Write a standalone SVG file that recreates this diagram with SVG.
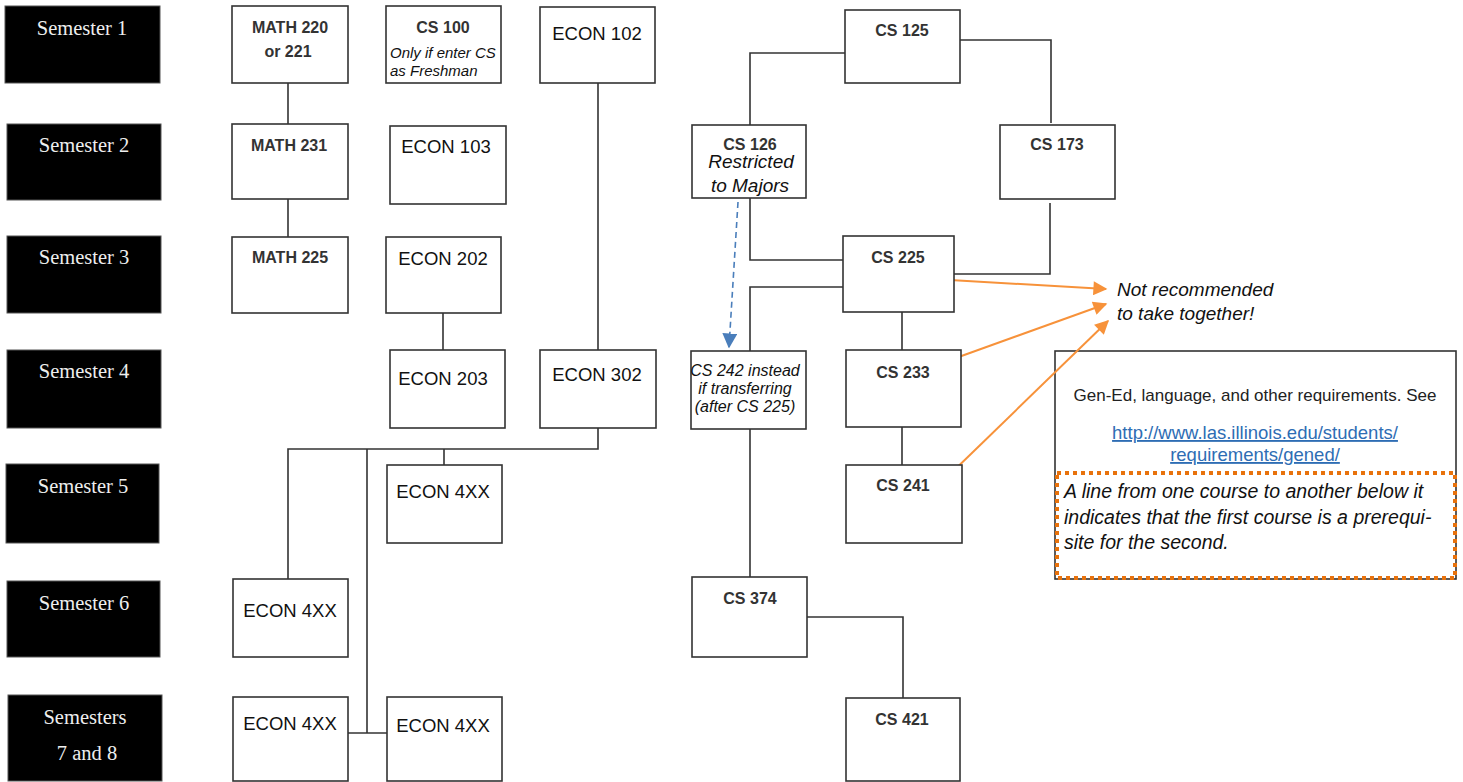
<svg xmlns="http://www.w3.org/2000/svg" width="1463" height="782" viewBox="0 0 1463 782">
<defs>
<style>
.sem rect{fill:#000;stroke:#555;stroke-width:1}
.sem text{fill:#eee;font-family:"Liberation Serif",serif;font-size:20.5px;text-anchor:middle}
.node rect{fill:#fff;stroke:#333;stroke-width:1.6}
.b{font-family:"Liberation Sans",Arial,sans-serif;font-weight:bold;font-size:16px;fill:#333;text-anchor:middle}
.r{font-family:"Liberation Sans",Arial,sans-serif;font-size:18.5px;fill:#111;text-anchor:middle}
.i{font-family:"Liberation Sans",Arial,sans-serif;font-style:italic;fill:#111;text-anchor:middle}
.conn path{fill:none;stroke:#333;stroke-width:1.6}
.conn path.orange{fill:none;stroke:#f7923a;stroke-width:2}
.conn path.blue{fill:none;stroke:#4a7ebb;stroke-width:1.6;stroke-dasharray:6,4}
</style>
<marker id="oa" viewBox="0 0 10 10" refX="9" refY="5" markerWidth="16" markerHeight="14" markerUnits="userSpaceOnUse" orient="auto"><path d="M0,0 L10,5 L0,10 z" fill="#f7923a"/></marker>
<marker id="ba" viewBox="0 0 10 10" refX="9" refY="5" markerWidth="15" markerHeight="15" markerUnits="userSpaceOnUse" orient="auto"><path d="M0,0 L10,5 L0,10 z" fill="#4a7ebb"/></marker>
</defs>
<rect width="1463" height="782" fill="#fff"/>

<g id="semesters">
<g id="sem1" class="sem"><rect x="5" y="6" width="155" height="77"/><text x="82" y="35">Semester 1</text></g>
<g id="sem2" class="sem"><rect x="7" y="124" width="154" height="76"/><text x="84" y="152">Semester 2</text></g>
<g id="sem3" class="sem"><rect x="7" y="236" width="154" height="77"/><text x="84" y="264">Semester 3</text></g>
<g id="sem4" class="sem"><rect x="7" y="350" width="154" height="78"/><text x="84" y="378">Semester 4</text></g>
<g id="sem5" class="sem"><rect x="6" y="464" width="153" height="79"/><text x="83" y="493">Semester 5</text></g>
<g id="sem6" class="sem"><rect x="7" y="581" width="153" height="76"/><text x="84" y="610">Semester 6</text></g>
<g id="sem78" class="sem"><rect x="8" y="695" width="154" height="86"/><text x="85" y="724">Semesters</text><text x="87" y="760">7 and 8</text></g>
</g>

<g id="legend">
<rect x="1055" y="351" width="401" height="228" fill="#fff" stroke="#333" stroke-width="1.6"/>
<rect x="1057" y="473" width="398" height="105" fill="none" stroke="#e8720c" stroke-width="4" stroke-dasharray="4,4"/>
<text x="1255" y="401" font-family="Liberation Sans,Arial,sans-serif" font-size="17" fill="#222" text-anchor="middle">Gen-Ed, language, and other requirements. See</text>
<text x="1255" y="439" font-family="Liberation Sans,Arial,sans-serif" font-size="18.5" fill="#2e6db4" text-anchor="middle" text-decoration="underline">http://www.las.illinois.edu/students/</text>
<text x="1255" y="461" font-family="Liberation Sans,Arial,sans-serif" font-size="18.5" fill="#2e6db4" text-anchor="middle" text-decoration="underline">requirements/gened/</text>
<text x="1064" y="498" font-family="Liberation Sans,Arial,sans-serif" font-style="italic" font-size="19.5" fill="#111">A line from one course to another below it</text>
<text x="1064" y="524" font-family="Liberation Sans,Arial,sans-serif" font-style="italic" font-size="19.5" fill="#111">indicates that the first course is a prerequi-</text>
<text x="1064" y="549" font-family="Liberation Sans,Arial,sans-serif" font-style="italic" font-size="19.5" fill="#111">site for the second.</text>
</g>

<g id="connectors" class="conn">
<path d="M288,83 V124"/>
<path d="M288,199 V237"/>
<path d="M598,83 V350"/>
<path d="M443,313 V350"/>
<path d="M598,428 V449 H288 V579"/>
<path d="M367,449 V733"/>
<path d="M348,733 H387"/>
<path d="M444,449 V465"/>
<path d="M845,53 H750 V125"/>
<path d="M957,40 H1051 V123"/>
<path d="M750,198 V260 H843"/>
<path d="M1050,203 V274 H954"/>
<path d="M843,287 H750 V351"/>
<path d="M902,312 V350"/>
<path d="M902,427 V465"/>
<path d="M750,429 V577"/>
<path d="M807,617 H903 V698"/>
<path class="blue" d="M738,202 L729,347" marker-end="url(#ba)"/>
<path class="orange" d="M933,279 L1106,289" marker-end="url(#oa)"/>
<path class="orange" d="M942,363 L1106,304" marker-end="url(#oa)"/>
<path class="orange" d="M942,482 L1108,321" marker-end="url(#oa)"/>
</g>

<g id="math220" class="node"><rect x="232" y="6" width="116" height="77"/><text class="b" x="290" y="33">MATH 220</text><text class="b" x="288" y="57">or 221</text></g>
<g id="cs100" class="node"><rect x="386" y="6" width="115" height="77"/><text class="b" x="443" y="33">CS 100</text><text class="i" font-size="15" x="390" y="58" style="text-anchor:start">Only if enter CS</text><text class="i" font-size="15" x="390" y="76" style="text-anchor:start">as Freshman</text></g>
<g id="econ102" class="node"><rect x="540" y="7" width="115" height="76"/><text class="r" x="597" y="40">ECON 102</text></g>
<g id="cs125" class="node"><rect x="845" y="10" width="115" height="73"/><text class="b" x="902" y="36">CS 125</text></g>
<g id="math231" class="node"><rect x="232" y="124" width="116" height="75"/><text class="b" x="289" y="151">MATH 231</text></g>
<g id="econ103" class="node"><rect x="390" y="126" width="116" height="78"/><text class="r" x="446" y="153">ECON 103</text></g>
<g id="cs126" class="node"><rect x="692" y="125" width="114" height="73"/><text class="b" x="750" y="150">CS 126</text><text class="i" font-size="19" x="751" y="168">Restricted</text><text class="i" font-size="19" x="750" y="192">to Majors</text></g>
<g id="cs173" class="node"><rect x="1000" y="125" width="115" height="74"/><text class="b" x="1057" y="150">CS 173</text></g>
<g id="math225" class="node"><rect x="232" y="237" width="116" height="76"/><text class="b" x="290" y="263">MATH 225</text></g>
<g id="econ202" class="node"><rect x="386" y="237" width="115" height="76"/><text class="r" x="443" y="265">ECON 202</text></g>
<g id="cs225" class="node"><rect x="843" y="236" width="111" height="76"/><text class="b" x="898" y="263">CS 225</text></g>
<g id="econ203" class="node"><rect x="390" y="350" width="115" height="78"/><text class="r" x="443" y="385">ECON 203</text></g>
<g id="econ302" class="node"><rect x="540" y="350" width="116" height="78"/><text class="r" x="597" y="381">ECON 302</text></g>
<g id="cs242" class="node"><rect x="691" y="351" width="115" height="78"/><text class="i" font-size="16" x="745" y="376">CS 242 instead</text><text class="i" font-size="16" x="745" y="394">if transferring</text><text class="i" font-size="16" x="745" y="412">(after CS 225)</text></g>
<g id="cs233" class="node"><rect x="846" y="350" width="115" height="77"/><text class="b" x="903" y="378">CS 233</text></g>
<g id="econ4xx_5" class="node"><rect x="387" y="465" width="115" height="78"/><text class="r" x="443" y="498">ECON 4XX</text></g>
<g id="cs241" class="node"><rect x="846" y="465" width="116" height="78"/><text class="b" x="903" y="491">CS 241</text></g>
<g id="econ4xx_6" class="node"><rect x="233" y="579" width="115" height="78"/><text class="r" x="290" y="617">ECON 4XX</text></g>
<g id="cs374" class="node"><rect x="692" y="577" width="115" height="80"/><text class="b" x="750" y="604">CS 374</text></g>
<g id="econ4xx_7a" class="node"><rect x="233" y="697" width="115" height="84"/><text class="r" x="290" y="730">ECON 4XX</text></g>
<g id="econ4xx_7b" class="node"><rect x="387" y="697" width="115" height="84"/><text class="r" x="443" y="732">ECON 4XX</text></g>
<g id="cs421" class="node"><rect x="846" y="698" width="114" height="83"/><text class="b" x="902" y="725">CS 421</text></g>

<g id="note">
<text class="i" font-size="19" x="1117" y="296" style="text-anchor:start">Not recommended</text>
<text class="i" font-size="19" x="1117" y="320" style="text-anchor:start">to take together!</text>
</g>
</svg>
